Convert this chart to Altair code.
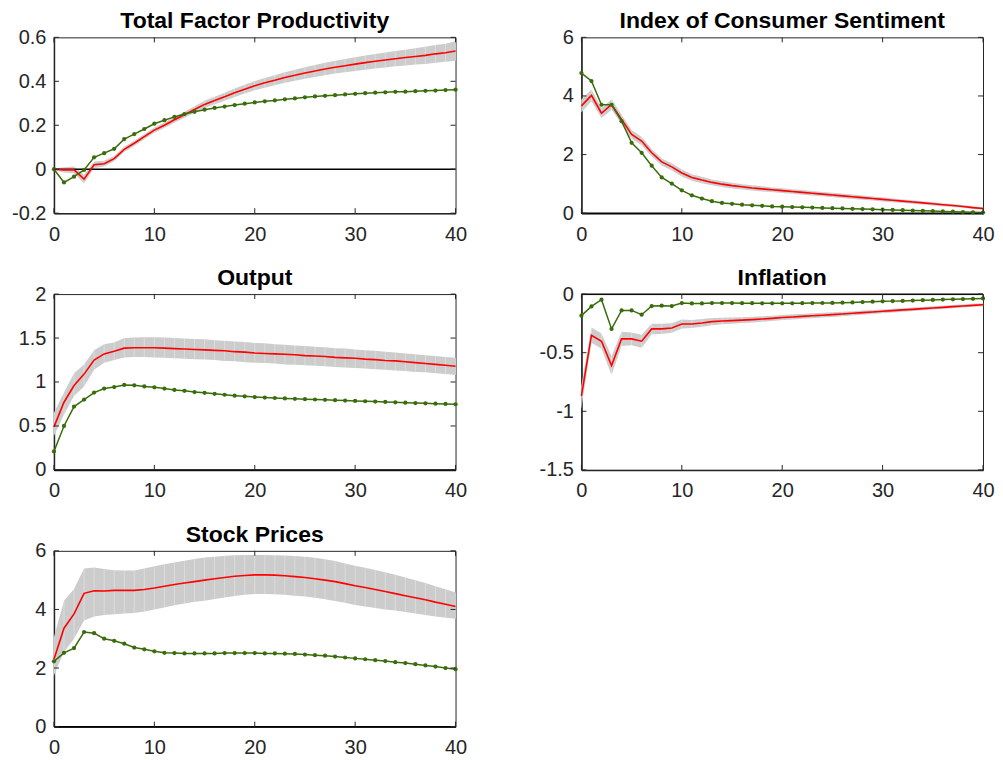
import altair as alt
import pandas as pd

H = list(range(41))
X_TICKS = [0, 10, 20, 30, 40]

# ---------------- Total Factor Productivity ----------------
tfp_med = [0, -0.003, -0.003, -0.045, 0.02, 0.025, 0.048, 0.09, 0.118, 0.148, 0.178,
           0.2, 0.225, 0.248, 0.272, 0.295, 0.313, 0.33, 0.348, 0.364, 0.38,
           0.393, 0.405, 0.417, 0.428, 0.438, 0.447, 0.456, 0.464, 0.471, 0.478,
           0.485, 0.491, 0.497, 0.503, 0.508, 0.513, 0.518, 0.525, 0.53, 0.538]
tfp_lo = [-0.003, -0.015, -0.018, -0.065, 0.005, 0.012, 0.036, 0.078, 0.106, 0.136, 0.166,
          0.187, 0.212, 0.234, 0.257, 0.279, 0.296, 0.312, 0.329, 0.344, 0.359,
          0.371, 0.382, 0.393, 0.403, 0.412, 0.42, 0.428, 0.435, 0.441, 0.447,
          0.453, 0.458, 0.463, 0.468, 0.472, 0.476, 0.479, 0.485, 0.489, 0.494]
tfp_hi = [0.003, 0.009, 0.012, -0.025, 0.035, 0.038, 0.06, 0.102, 0.13, 0.16, 0.19,
          0.213, 0.238, 0.262, 0.287, 0.311, 0.33, 0.348, 0.367, 0.384, 0.401,
          0.415, 0.428, 0.441, 0.453, 0.464, 0.474, 0.484, 0.493, 0.501, 0.509,
          0.517, 0.524, 0.531, 0.538, 0.544, 0.55, 0.557, 0.565, 0.571, 0.582]
tfp_grn = [0, -0.06, -0.034, -0.003, 0.054, 0.073, 0.093, 0.137, 0.16, 0.183, 0.207,
           0.223, 0.238, 0.251, 0.261, 0.271, 0.279, 0.285, 0.292, 0.298, 0.304,
           0.309, 0.313, 0.318, 0.322, 0.327, 0.331, 0.334, 0.337, 0.34, 0.343,
           0.346, 0.348, 0.35, 0.352, 0.353, 0.355, 0.357, 0.358, 0.36, 0.362]
tfp_yticks = [-0.2, 0, 0.2, 0.4, 0.6]

# ---------------- Index of Consumer Sentiment ----------------
ics_med = [3.66, 4.02, 3.41, 3.71, 3.2, 2.69, 2.46, 2.06, 1.75, 1.58, 1.37,
           1.22, 1.13, 1.05, 0.99, 0.94, 0.9, 0.86, 0.83, 0.8, 0.77,
           0.74, 0.71, 0.68, 0.65, 0.62, 0.59, 0.56, 0.53, 0.5, 0.47,
           0.44, 0.41, 0.38, 0.35, 0.32, 0.29, 0.26, 0.23, 0.19, 0.16]
ics_hi = [3.88, 4.22, 3.58, 3.89, 3.36, 2.84, 2.6, 2.19, 1.87, 1.7, 1.49,
          1.33, 1.24, 1.15, 1.09, 1.04, 0.99, 0.95, 0.92, 0.88, 0.85,
          0.82, 0.79, 0.755, 0.725, 0.695, 0.665, 0.635, 0.6, 0.57, 0.54,
          0.505, 0.47, 0.44, 0.405, 0.375, 0.34, 0.31, 0.275, 0.235, 0.2]
ics_lo = [3.44, 3.82, 3.24, 3.53, 3.04, 2.54, 2.32, 1.93, 1.63, 1.46, 1.25,
          1.11, 1.02, 0.95, 0.89, 0.84, 0.81, 0.77, 0.74, 0.72, 0.69,
          0.66, 0.63, 0.605, 0.575, 0.545, 0.515, 0.485, 0.46, 0.43, 0.4,
          0.375, 0.35, 0.32, 0.295, 0.265, 0.24, 0.21, 0.185, 0.145, 0.12]
ics_grn = [4.78, 4.51, 3.70, 3.70, 3.14, 2.40, 2.06, 1.62, 1.22, 1.01, 0.78,
           0.61, 0.50, 0.41, 0.35, 0.32, 0.29, 0.27, 0.25, 0.23, 0.22,
           0.21, 0.20, 0.19, 0.18, 0.17, 0.16, 0.15, 0.14, 0.13, 0.12,
           0.11, 0.10, 0.09, 0.08, 0.07, 0.06, 0.05, 0.04, 0.03, 0.02]
ics_yticks = [0, 2, 4, 6]

# ---------------- Output ----------------
out_med = [0.49, 0.77, 0.96, 1.09, 1.25, 1.32, 1.35, 1.385, 1.39, 1.39, 1.39,
           1.385, 1.38, 1.375, 1.37, 1.365, 1.36, 1.355, 1.345, 1.34, 1.33,
           1.325, 1.32, 1.315, 1.31, 1.30, 1.295, 1.29, 1.28, 1.275, 1.27,
           1.26, 1.255, 1.245, 1.24, 1.23, 1.22, 1.21, 1.2, 1.19, 1.18]
out_hi = [0.65, 0.88, 1.1, 1.2, 1.36, 1.43, 1.45, 1.5, 1.505, 1.51, 1.51,
          1.505, 1.5, 1.495, 1.49, 1.485, 1.475, 1.47, 1.46, 1.455, 1.445,
          1.44, 1.43, 1.425, 1.415, 1.41, 1.4, 1.395, 1.385, 1.38, 1.37,
          1.36, 1.355, 1.345, 1.335, 1.325, 1.315, 1.305, 1.295, 1.285, 1.275]
out_lo = [0.39, 0.63, 0.84, 0.95, 1.14, 1.22, 1.25, 1.28, 1.285, 1.285, 1.28,
          1.275, 1.27, 1.265, 1.26, 1.255, 1.25, 1.24, 1.235, 1.225, 1.22,
          1.215, 1.21, 1.2, 1.195, 1.19, 1.185, 1.18, 1.17, 1.165, 1.16,
          1.155, 1.145, 1.14, 1.13, 1.125, 1.115, 1.11, 1.1, 1.09, 1.08]
out_grn = [0.21, 0.5, 0.72, 0.8, 0.88, 0.925, 0.943, 0.966, 0.962, 0.95, 0.94,
           0.925, 0.91, 0.9, 0.885, 0.877, 0.866, 0.855, 0.845, 0.837, 0.829,
           0.823, 0.818, 0.813, 0.809, 0.805, 0.801, 0.797, 0.793, 0.789, 0.785,
           0.781, 0.777, 0.773, 0.769, 0.765, 0.761, 0.757, 0.753, 0.75, 0.747]
out_yticks = [0, 0.5, 1, 1.5, 2]

# ---------------- Inflation ----------------
inf_med = [-0.869, -0.351, -0.402, -0.609, -0.382, -0.382, -0.402, -0.297, -0.297, -0.289, -0.255,
           -0.255, -0.246, -0.235, -0.23, -0.226, -0.222, -0.218, -0.213, -0.207, -0.2,
           -0.195, -0.19, -0.185, -0.18, -0.175, -0.17, -0.164, -0.158, -0.153, -0.147,
           -0.141, -0.135, -0.13, -0.124, -0.118, -0.113, -0.107, -0.102, -0.096, -0.091]
inf_hi = [-0.78, -0.286, -0.337, -0.53, -0.322, -0.327, -0.347, -0.252, -0.254, -0.249, -0.217,
          -0.22, -0.213, -0.205, -0.202, -0.2, -0.197, -0.193, -0.189, -0.184, -0.178,
          -0.173, -0.169, -0.164, -0.16, -0.155, -0.151, -0.146, -0.14, -0.136, -0.131,
          -0.125, -0.12, -0.115, -0.11, -0.104, -0.099, -0.094, -0.089, -0.083, -0.078]
inf_lo = [-0.97, -0.416, -0.467, -0.69, -0.442, -0.437, -0.457, -0.342, -0.34, -0.329, -0.293,
          -0.29, -0.279, -0.265, -0.258, -0.252, -0.247, -0.243, -0.237, -0.23, -0.222,
          -0.217, -0.211, -0.206, -0.2, -0.195, -0.189, -0.182, -0.176, -0.17, -0.163,
          -0.157, -0.15, -0.145, -0.138, -0.132, -0.127, -0.12, -0.115, -0.109, -0.104]
inf_grn = [-0.184, -0.105, -0.048, -0.297, -0.139, -0.139, -0.176, -0.102, -0.099, -0.102, -0.077,
           -0.08, -0.08, -0.077, -0.077, -0.077, -0.078, -0.078, -0.079, -0.079, -0.079,
           -0.079, -0.078, -0.077, -0.076, -0.075, -0.073, -0.071, -0.068, -0.065, -0.062,
           -0.06, -0.058, -0.055, -0.052, -0.05, -0.047, -0.045, -0.042, -0.04, -0.037]
inf_yticks = [-1.5, -1, -0.5, 0]

# ---------------- Stock Prices ----------------
stk_med = [2.3, 3.36, 3.85, 4.55, 4.64, 4.63, 4.65, 4.65, 4.65, 4.68, 4.73,
           4.79, 4.85, 4.9, 4.95, 5.0, 5.05, 5.09, 5.13, 5.16, 5.18,
           5.18, 5.17, 5.15, 5.12, 5.09, 5.05, 5.0, 4.95, 4.88, 4.81,
           4.75, 4.68, 4.61, 4.54, 4.47, 4.4, 4.33, 4.25, 4.18, 4.1]
stk_hi = [3.06, 4.3, 4.7, 5.4, 5.43, 5.38, 5.34, 5.33, 5.33, 5.4, 5.47,
          5.54, 5.6, 5.66, 5.72, 5.77, 5.8, 5.83, 5.85, 5.86, 5.86,
          5.86, 5.85, 5.84, 5.82, 5.8, 5.76, 5.71, 5.65, 5.57, 5.49,
          5.42, 5.35, 5.27, 5.18, 5.09, 5.0, 4.9, 4.79, 4.69, 4.58]
stk_lo = [1.75, 2.55, 3.0, 3.62, 3.76, 3.81, 3.84, 3.86, 3.88, 3.93, 4.0,
          4.07, 4.14, 4.2, 4.26, 4.3, 4.36, 4.41, 4.46, 4.5, 4.53,
          4.53, 4.52, 4.5, 4.47, 4.44, 4.4, 4.35, 4.29, 4.23, 4.15,
          4.1, 4.05, 4.0, 3.96, 3.91, 3.86, 3.81, 3.76, 3.72, 3.68]
stk_grn = [2.23, 2.52, 2.68, 3.23, 3.19, 3.0, 2.93, 2.83, 2.7, 2.64, 2.57,
           2.52, 2.51, 2.5, 2.5, 2.5, 2.5, 2.51, 2.51, 2.51, 2.51,
           2.5, 2.5, 2.49, 2.48, 2.46, 2.44, 2.42, 2.39, 2.36, 2.33,
           2.3, 2.27, 2.24, 2.2, 2.17, 2.13, 2.09, 2.05, 2.0, 1.96]
stk_yticks = [0, 2, 4, 6]

W, HT = 402, 176
TICK = 5
FONT = "Liberation Sans"
AXIS_COL = "#262626"
RED = "#ff0000"
GREEN = "#3b6c0c"
BAND = "#cccccc"


def panel(title, med, lo, hi, grn, yticks):
    df = pd.DataFrame({"h": H, "med": med, "lo": lo, "hi": hi, "grn": grn})
    xs = alt.Scale(domain=[0, 40], nice=False, zero=False)
    ys = alt.Scale(domain=[min(yticks), max(yticks)], nice=False, zero=False)
    xaxis = alt.Axis(values=X_TICKS, ticks=False, grid=False, domainColor=AXIS_COL,
                     domainWidth=1.5, labelFont=FONT, labelFontSize=20,
                     labelColor=AXIS_COL, labelPadding=11, title=None,
                     labelFlush=False, labelExpr="'' + datum.value")
    yaxis = alt.Axis(values=yticks, ticks=False, grid=False, domainColor=AXIS_COL,
                     domainWidth=1.5, labelFont=FONT, labelFontSize=20,
                     labelColor=AXIS_COL, labelPadding=8, title=None,
                     labelFlush=False, labelExpr="'' + datum.value")

    def X(f):
        return alt.X(f, scale=xs, axis=xaxis)

    def Y(f):
        return alt.Y(f, scale=ys, axis=yaxis)

    base = alt.Chart(df)
    band = base.mark_area(color=BAND, opacity=1).encode(x=X("h:Q"), y=Y("lo:Q"), y2="hi:Q")
    stripes = base.mark_rule(color="#ffffff", opacity=0.45, strokeWidth=0.7).encode(
        x=X("h:Q"), y=Y("lo:Q"), y2="hi:Q")
    zero = alt.Chart(pd.DataFrame({"z": [0]})).mark_rule(color="black", strokeWidth=1.4).encode(
        y=Y("z:Q"))
    red = base.mark_line(color=RED, strokeWidth=1.6).encode(x=X("h:Q"), y=Y("med:Q"))
    green = base.mark_line(color=GREEN, strokeWidth=1.5,
                           point=alt.OverlayMarkDef(filled=True, size=18, color=GREEN)).encode(
        x=X("h:Q"), y=Y("grn:Q"))
    ydf = pd.DataFrame({"t": yticks})
    xdf = pd.DataFrame({"t": X_TICKS})
    yt_left = alt.Chart(ydf).mark_rule(color=AXIS_COL, strokeWidth=1).encode(
        y=Y("t:Q"), x=alt.value(0), x2=alt.value(TICK))
    yt_right = alt.Chart(ydf).mark_rule(color=AXIS_COL, strokeWidth=1).encode(
        y=Y("t:Q"), x=alt.value(W - TICK), x2=alt.value(W))
    xt_bot = alt.Chart(xdf).mark_rule(color=AXIS_COL, strokeWidth=1).encode(
        x=X("t:Q"), y=alt.value(HT), y2=alt.value(HT - TICK))
    xt_top = alt.Chart(xdf).mark_rule(color=AXIS_COL, strokeWidth=1).encode(
        x=X("t:Q"), y=alt.value(0), y2=alt.value(TICK))
    return alt.layer(band, stripes, zero, red, green, yt_left, yt_right, xt_bot, xt_top).properties(
        width=W, height=HT,
        title=alt.TitleParams(title, font=FONT, fontSize=23, fontWeight="bold",
                              color="black", offset=-6, anchor="middle"),
    )


p1 = panel("Total Factor Productivity", tfp_med, tfp_lo, tfp_hi, tfp_grn, tfp_yticks)
p2 = panel("Index of Consumer Sentiment", ics_med, ics_lo, ics_hi, ics_grn, ics_yticks)
p3 = panel("Output", out_med, out_lo, out_hi, out_grn, out_yticks)
p4 = panel("Inflation", inf_med, inf_lo, inf_hi, inf_grn, inf_yticks)
p5 = panel("Stock Prices", stk_med, stk_lo, stk_hi, stk_grn, stk_yticks)

chart = alt.concat(p1, p2, p3, p4, p5, columns=2,
                   spacing={"row": 81, "column": 126}, bounds="flush").properties(
    padding={"left": 3, "top": 1, "right": 0, "bottom": 2},
    background="white",
).configure_view(stroke=AXIS_COL, strokeWidth=1)

chart.save("out.html", embed_options={"renderer": "svg", "actions": False})
